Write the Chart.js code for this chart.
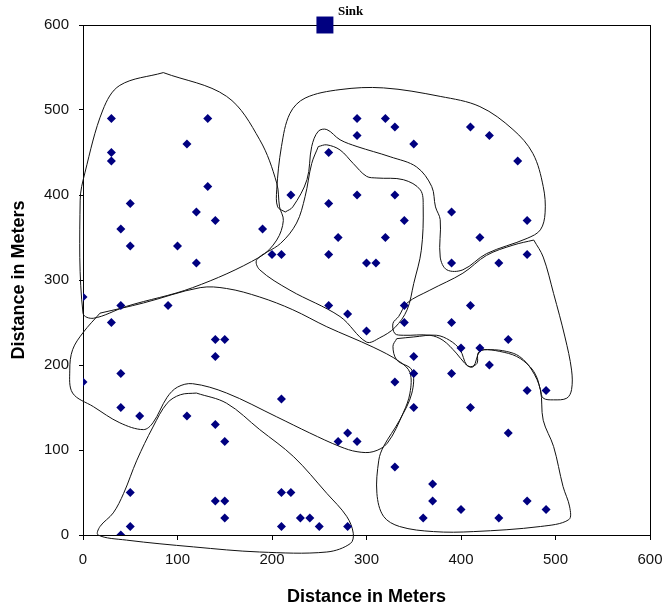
<!DOCTYPE html>
<html>
<head>
<meta charset="utf-8">
<script src="https://cdn.jsdelivr.net/npm/chart.js@4"></script>
<style>
  html, body { margin: 0; padding: 0; background: #fff; }
  #wrap { width: 667px; height: 611px; }
</style>
</head>
<body>
<div id="wrap"><canvas id="myChart" width="667" height="611"></canvas></div>
<script>
// sensor node positions (meters)
const nodeX = [30,132,110,30,30,132,50,120,140,40,190,50,100,120,220,200,210,
  260,260,270,260,290,290,290,320,330,350,410,430,460,330,340,390,470,420,320,300,310,390,440,470,
  0,40,90,30,260,280,140,150,140,0,40,40,60,110,140,150,210,280,270,290,
  50,140,150,150,210,220,230,240,250,50,40,210,280,
  340,410,340,390,300,450,400,420,350,430,350,390,330,470,490,350,410,450,330,370,370,400,360,440,470,490];
const nodeY = [490,490,460,450,440,410,390,380,370,360,360,340,340,320,400,330,330,
  450,390,350,330,490,470,400,490,480,460,480,470,440,400,370,380,370,350,350,320,320,320,320,330,
  280,270,270,250,270,260,230,230,210,180,190,150,140,140,130,110,160,120,110,110,
  50,40,40,20,50,50,20,20,10,10,0,10,10,
  270,270,250,250,240,230,220,220,210,200,190,190,180,170,170,150,150,120,80,60,40,30,20,20,40,30];

const sinkX = [256];
const sinkY = [600];

// hand drawn cluster outlines, [x, y] in meters
const clusterA = [[85,544],[152,516],[187,465],[205,414],[208,386],[212,370],[205,347],[187,327],[116,291],[46,269],[11,255],[0,261],[-3,394],[2,426],[21,500],[39,529],[85,544]];
const clusterB = [[214,380],[206,386],[205,406],[210,457],[219,496],[235,514],[272,524],[318,526],[378,516],[420,504],[455,477],[476,449],[487,410],[489,379],[484,359],[470,349],[427,331],[402,312],[385,312],[378,327],[378,371],[373,386],[369,410],[353,433],[325,445],[290,457],[272,465],[258,477],[249,475],[242,457],[237,418],[222,386],[214,380]];
const clusterC = [[249,457],[258,459],[272,453],[286,437],[300,422],[311,420],[339,418],[357,406],[360,386],[358,335],[350,296],[343,265],[330,244],[314,232],[300,227],[272,257],[219,288],[187,312],[184,324],[209,343],[226,367],[235,398],[242,437],[249,457]];
const clusterD = [[18,261],[64,273],[124,291],[152,290],[187,280],[222,265],[258,245],[307,221],[335,204],[346,191],[346,167],[339,144],[322,108],[307,98],[290,98],[272,104],[240,120],[205,139],[152,167],[116,178],[100,174],[89,162],[74,132],[64,124],[39,132],[11,151],[-11,167],[-14,194],[-11,218],[0,238],[18,261]];
const clusterE = [[120,167],[152,155],[187,124],[223,92],[258,49],[279,22],[286,2],[283,-10],[258,-20],[187,-20],[117,-14],[46,-6],[16,0],[18,10],[32,26],[43,49],[57,88],[74,127],[89,155],[103,165],[120,167]];
const clusterF = [[477,347],[487,327],[498,284],[510,233],[517,194],[517,171],[512,161],[498,159],[487,161],[484,171],[480,186],[473,198],[459,210],[441,216],[424,218],[418,214],[417,202],[410,198],[404,202],[395,214],[381,229],[367,235],[339,235],[330,237],[328,249],[334,257],[343,273],[367,288],[402,308],[427,329],[455,341],[477,347]];
const clusterG = [[332,231],[350,233],[374,235],[388,229],[399,218],[406,200],[413,198],[420,216],[431,218],[448,216],[462,210],[475,194],[484,171],[487,135],[498,104],[508,57],[515,33],[514,18],[484,10],[413,4],[371,4],[335,10],[318,22],[311,49],[313,88],[318,104],[335,135],[348,167],[348,194],[332,206],[328,222],[332,231]];
const clusters = [clusterA, clusterB, clusterC, clusterD, clusterE, clusterF, clusterG];

const ticks = [0, 100, 200, 300, 400, 500, 600];

const datasets = clusters.map(c => ({
  type: 'line',
  data: c.map(p => ({x: p[0], y: p[1]})),
  borderColor: '#111',
  borderWidth: 1,
  pointRadius: 0,
  tension: 0.35,
  fill: false,
  clip: false,
  order: 2
}));

datasets.push({
  data: nodeX.map((x, i) => ({x: x, y: nodeY[i]})),
  pointStyle: 'rectRot',
  pointRadius: 4.5,
  backgroundColor: '#000080',
  borderColor: '#000080',
  borderWidth: 0,
  order: 1
});
datasets.push({
  data: sinkX.map((x, i) => ({x: x, y: sinkY[i]})),
  pointStyle: 'rect',
  pointRadius: 12,
  backgroundColor: '#000080',
  borderColor: '#000080',
  borderWidth: 0,
  clip: false,
  order: 0
});

const frame = {
  id: 'frame',
  beforeDatasetsDraw(chart) {
    const a = chart.chartArea, ctx = chart.ctx;
    ctx.save();
    ctx.strokeStyle = '#000';
    ctx.lineWidth = 1;
    ctx.strokeRect(a.left + 0.5, a.top + 0.5, a.right - a.left, a.bottom - a.top);
    ctx.restore();
  },
  afterDatasetsDraw(chart) {
    const meta = chart.getDatasetMeta(chart.data.datasets.length - 1);
    const pt = meta.data[0];
    const ctx = chart.ctx;
    ctx.save();
    ctx.fillStyle = '#000';
    ctx.font = 'bold 13px "Liberation Serif", serif';
    ctx.textBaseline = 'alphabetic';
    ctx.fillText('Sink', pt.x + 13, pt.y - 10);
    ctx.restore();
  }
};

const tickFont = {family: '"Liberation Sans", Arial, sans-serif', size: 15};
const titleFont = {family: '"Liberation Sans", Arial, sans-serif', size: 18, weight: 'bold'};

new Chart(document.getElementById('myChart'), {
  type: 'scatter',
  data: {datasets: datasets},
  plugins: [frame],
  options: {
    responsive: false,
    animation: false,
    layout: {padding: {top: 25, right: 17, left: 0, bottom: 0}},
    plugins: {legend: {display: false}, tooltip: {enabled: false}},
    scales: {
      x: {
        type: 'linear', min: 0, max: 600,
        afterBuildTicks: s => { s.ticks = ticks.map(v => ({value: v})); },
        afterFit: s => { s.height = 76; s.paddingLeft = 0; s.paddingRight = 0; },
        grid: {drawOnChartArea: false, drawTicks: true, tickLength: 5, color: '#000'},
        border: {display: true, color: '#000'},
        ticks: {font: tickFont, color: '#111', padding: 11, maxRotation: 0},
        title: {display: true, text: 'Distance in Meters', font: titleFont, color: '#000', padding: {top: 0, bottom: 3}}
      },
      y: {
        type: 'linear', min: 0, max: 600,
        afterBuildTicks: s => { s.ticks = ticks.map(v => ({value: v})); },
        afterFit: s => { s.width = 83; s.paddingTop = 0; s.paddingBottom = 0; },
        grid: {drawOnChartArea: false, drawTicks: true, tickLength: 4, color: '#000'},
        border: {display: true, color: '#000'},
        ticks: {font: tickFont, color: '#111', padding: 10},
        title: {display: true, text: 'Distance in Meters', font: titleFont, color: '#000', padding: {top: 8, bottom: 0}}
      }
    }
  }
});
</script>
</body>
</html>
